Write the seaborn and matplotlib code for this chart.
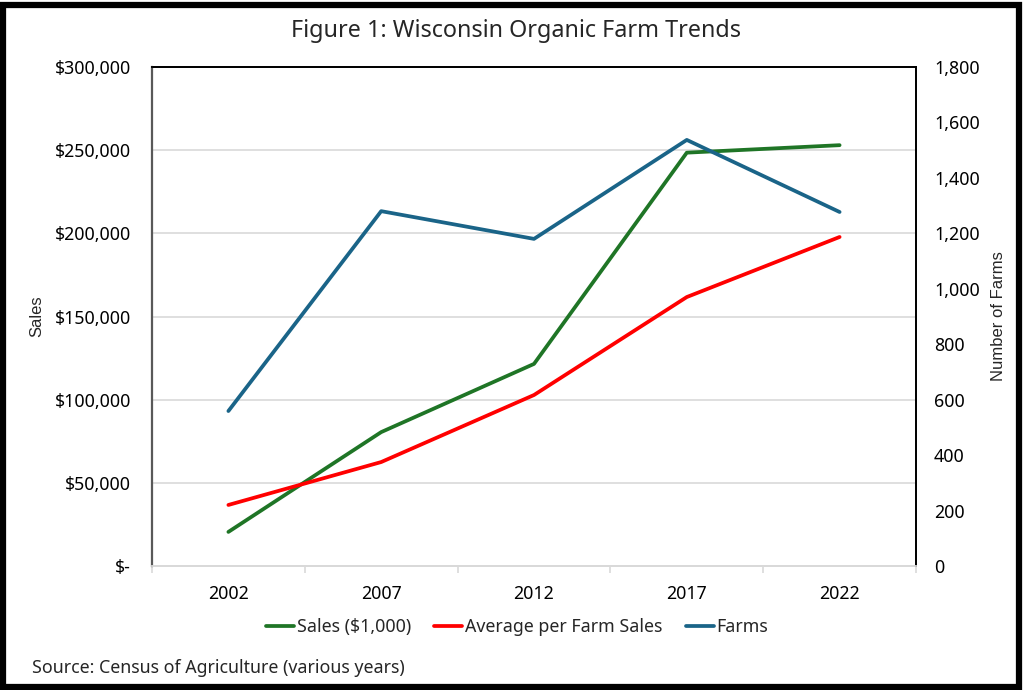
import matplotlib
matplotlib.use("Agg")
import matplotlib.pyplot as plt
from matplotlib.patches import Rectangle
from matplotlib.ticker import FuncFormatter, FixedLocator
import numpy as np
import pandas as pd
import seaborn as sns

# data
years = ["2002", "2007", "2012", "2017", "2022"]
sales = [20500, 80500, 121500, 248500, 253000]        # Sales ($1,000)
avg_sales = [36700, 62500, 102800, 161700, 197800]    # Average per Farm Sales
farms = [559, 1280, 1180, 1537, 1277]                 # Number of Farms

sns.set_theme(style="white")
plt.rcParams["font.family"] = ["Noto Sans", "DejaVu Sans"]

GREEN = "#1f7526"
RED = "#ff0000"
BLUE = "#1a6488"

df = pd.DataFrame({"year": years, "sales": sales, "avg": avg_sales, "farms": farms})

fig = plt.figure(figsize=(10.24, 6.9), dpi=100)
ax = fig.add_axes([152 / 1024, 1 - 566 / 690, (916 - 152) / 1024, (566 - 67) / 690])
ax2 = ax.twinx()

sns.lineplot(data=df, x="year", y="sales", ax=ax, color=GREEN, lw=2.7, label="Sales ($1,000)", legend=False)
sns.lineplot(data=df, x="year", y="avg", ax=ax, color=RED, lw=2.7, label="Average per Farm Sales", legend=False)
sns.lineplot(data=df, x="year", y="farms", ax=ax2, color=BLUE, lw=2.7, label="Farms", legend=False)

ax.set_xlim(-0.5, len(years) - 0.5)
ax.set_ylim(0, 300000)
ax2.set_ylim(0, 1800)
ax.set_yticks(np.arange(0, 300001, 50000))
ax2.set_yticks(np.arange(0, 1801, 200))

def dollars(v, pos):
    return "$-" if v == 0 else f"${v:,.0f}"

ax.yaxis.set_major_formatter(FuncFormatter(dollars))
ax2.yaxis.set_major_formatter(FuncFormatter(lambda v, p: f"{v:,.0f}"))

ax.grid(axis="y", color="#d9d9d9", lw=1.2)
ax.set_axisbelow(True)

# spines like the Excel chart
for a in (ax, ax2):
    a.spines["top"].set_color("black")
    a.spines["right"].set_color("black")
    a.spines["left"].set_color("#595959")
    a.spines["bottom"].set_color("#d9d9d9")
    for s in a.spines.values():
        s.set_linewidth(1.3)
ax.spines["left"].set_linewidth(1.6)

ax.tick_params(axis="y", length=0, pad=15, labelsize=12.8, colors="black")
ax2.tick_params(axis="y", length=0, pad=13, labelsize=12.8, colors="black")
ax.tick_params(axis="x", which="major", length=0, pad=14, labelsize=12.8, colors="black")
ax.xaxis.set_minor_locator(FixedLocator(np.arange(-0.5, len(years), 1.0)))
ax.tick_params(axis="x", which="minor", length=5, width=1.2, color="#d9d9d9", bottom=True)

ax.set_xlabel("")
ax.set_ylabel("Sales", fontsize=12, family=["Liberation Sans", "DejaVu Sans"])
ax2.set_ylabel("Number of Farms", fontsize=12, family=["Liberation Sans", "DejaVu Sans"], rotation=90)
ax.yaxis.set_label_coords(-0.141, 0.5)
ax2.yaxis.set_label_coords(1.098, 0.5)

fig.text(516 / 1024, 1 - 31 / 690, "Figure 1: Wisconsin Organic Farm Trends", ha="center", va="center",
         fontsize=16.8)
fig.text(32 / 1024, 1 - 668 / 690, "Source: Census of Agriculture (various years)", ha="left", va="center",
         fontsize=12.8)

h1, l1 = ax.get_legend_handles_labels()
h2, l2 = ax2.get_legend_handles_labels()
fig.legend(h1 + h2, l1 + l2, loc="center", bbox_to_anchor=(517 / 1024, 1 - 627 / 690), ncol=3,
           frameon=False, fontsize=12.8, handlelength=1.6, handletextpad=0.15, columnspacing=1.3)

fig.patches.append(Rectangle((3 / 1024, 3 / 690), 1016 / 1024, 682 / 690, transform=fig.transFigure,
                             fill=False, edgecolor="black", lw=4.5))

fig.savefig("out.png", dpi=100)
